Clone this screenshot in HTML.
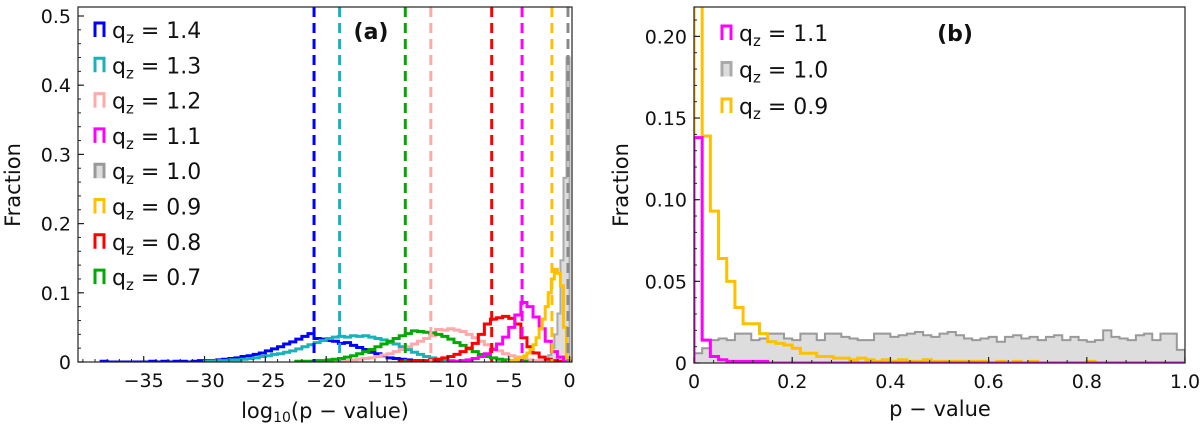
<!DOCTYPE html>
<html><head><meta charset="utf-8"><style>
html,body{margin:0;padding:0;background:#fff;}
svg{display:block;font-family:"DejaVu Sans","Liberation Sans",sans-serif;}
</style></head><body>
<svg id="fig" width="1200" height="428" viewBox="0 0 1200 428">
<defs>
<clipPath id="clipA"><rect x="78" y="7" width="494" height="355"/></clipPath>
<clipPath id="clipB"><rect x="694" y="7" width="491" height="356"/></clipPath>
</defs>
<g id="panelA"></g>
<g id="panelB"></g>
</svg>
<script>
// ---------- Panel (a) data ----------
const seriesNamesA = ["1.4","1.3","1.2","1.1","1.0","0.9","0.8","0.7"];
const seriesColorsA = ["#0000ff","#17b3b8","#ffaaaa","#ff00ff","#999999","#ffc000","#ff0000","#00aa00"];
const blueStart = -38.5, blueWidth = 0.5;
const blueValues = [0.001,0,0,0,0,0,0,0,0.001,0,0.001,0,0.001,0.001,0,0.001,0.002,0.002,0.002,0.003,
 0.004,0.005,0.006,0.008,0.009,0.011,0.013,0.016,0.019,0.022,0.026,0.029,0.033,0.037,0.041,
 0.034,0.033,0.031,0.030,0.027,0.028,0.024,0.021,0.018,0.014,0.012,0.009,0.006,0.005,0.004,0.003,0.002,0.002,0.001,0.001,0.001];
const cyanStart = -30, cyanWidth = 0.5;
const cyanValues = [0.001,0.001,0.002,0.002,0.003,0.003,0.004,0.005,0.006,0.008,0.009,0.011,0.012,0.014,0.016,0.019,0.022,0.025,0.028,0.031,0.034,0.036,0.037,0.036,0.038,0.037,0.038,0.036,0.034,0.032,0.028,0.026,0.022,0.018,0.014,0.011,0.008,0.006,0.004,0.003,0.002,0.001,0.001];
const greenStart = -22.5, greenWidth = 0.5;
const greenValues = [0.001,0.001,0.001,0.002,0.002,0.003,0.004,0.005,0.007,0.009,0.012,0.015,0.018,0.022,0.026,0.030,0.034,0.038,0.041,0.045,0.044,0.043,0.042,0.040,0.037,0.033,0.028,0.024,0.019,0.015,0.011,0.008,0.006,0.004,0.003,0.002,0.001,0.001];
const pinkStart = -20, pinkWidth = 0.5;
const pinkValues = [0.001,0.001,0.002,0.002,0.003,0.004,0.005,0.006,0.008,0.010,0.012,0.015,0.018,0.022,0.026,0.030,0.034,0.038,0.047,0.046,0.048,0.046,0.044,0.040,0.035,0.030,0.025,0.020,0.016,0.012,0.009,0.007,0.005,0.003,0.002,0.001,0.001];
const redStart = -14, redWidth = 0.5;
const redValues = [0.001,0.001,0.001,0.002,0.002,0.003,0.004,0.006,0.008,0.011,0.015,0.020,0.027,0.040,0.055,0.062,0.064,0.066,0.063,0.055,0.035,0.022,0.013,0.007,0.004,0.002,0.001];
const magentaStart = -10, magentaWidth = 0.5;
const magentaValues = [0.001,0.001,0.002,0.003,0.005,0.008,0.012,0.018,0.026,0.036,0.050,0.068,0.086,0.080,0.065,0.048,0.030,0.015,0.007,0.003,0.001];
const yellowStart = -5, yellowWidth = 0.25;
const yellowValues = [0.001,0.002,0.003,0.004,0.006,0.009,0.013,0.018,0.025,0.035,0.048,0.062,0.080,0.100,0.120,0.134,0.128,0.110,0.050,0.005];
const grayStart = -2.25, grayWidth = 0.25;
const grayValues = [0.002,0.005,0.010,0.020,0.040,0.070,0.147,0.266,0.440];
const medianValuesA = [-21.0,-18.9,-11.4,-3.9,-0.13,-1.45,-6.4,-13.5];
const xTicksA = [-35,-30,-25,-20,-15,-10,-5,0];
const yTicksA = [0,0.1,0.2,0.3,0.4,0.5];

// ---------- Panel (b) data ----------
const seriesNamesB = ["1.1","1.0","0.9"];
const binWidthB = 1/60;
const magentaB = [0.138,0.014,0.004,0.002,0.001,0.001,0.001,0.001,0.001,0,0,0,0,0,0,0,0,0,0,0,0,0,0,0,0,0,0,0,0,0,0,0,0,0,0,0,0,0,0,0,0,0,0,0,0,0,0,0,0,0,0,0,0,0,0,0,0,0,0,0];
const grayB = [0.006,0.009,0.014,0.015,0.014,0.018,0.018,0.014,0.015,0.018,0.018,0.015,0.014,0.018,0.018,0.014,0.018,0.018,0.016,0.015,0.014,0.014,0.018,0.018,0.016,0.017,0.018,0.019,0.017,0.016,0.018,0.019,0.017,0.015,0.014,0.015,0.016,0.013,0.016,0.017,0.015,0.016,0.014,0.016,0.017,0.014,0.016,0.014,0.013,0.014,0.020,0.016,0.015,0.014,0.017,0.018,0.014,0.018,0.018,0.008];
const yellowB = [0.40,0.139,0.093,0.064,0.050,0.034,0.024,0.024,0.018,0.013,0.012,0.011,0.009,0.006,0.006,0.004,0.004,0.003,0.003,0.002,0.003,0.002,0.001,0.002,0.001,0.002,0.001,0.001,0.002,0.001,0.001,0.001,0.001,0.001,0.001,0.001,0,0.001,0,0.001,0,0.001,0,0,0,0,0,0,0.001,0,0,0,0,0,0,0,0,0,0,0];
const xTicksB = [0,0.2,0.4,0.6,0.8,1.0];
const xTickLabelsB = ["0","0.2","0.4","0.6","0.8","1.0"];
const yTicksB = [0,0.05,0.10,0.15,0.20];
const yTickLabelsB = ["0","0.05","0.10","0.15","0.20"];

const NS = "http://www.w3.org/2000/svg";
function mk(tag, attrs, parent){const e=document.createElementNS(NS,tag);for(const k in attrs)e.setAttribute(k,attrs[k]);parent.appendChild(e);return e;}

// axis functions
const A = {l:78,r:572,t:7,b:362,x0:-40.4,x1:0.2,y0:0,y1:0.513};
const B = {l:694,r:1185,t:7,b:363,x0:0,x1:1,y0:0,y1:0.218};
function sx(P,v){return P.l+(v-P.x0)/(P.x1-P.x0)*(P.r-P.l);}
function sy(P,v){return P.b-(v-P.y0)/(P.y1-P.y0)*(P.b-P.t);}

function stepPath(P,start,width,vals){
  let d="M"+sx(P,start)+","+sy(P,0);
  for(let i=0;i<vals.length;i++){
    const x0=sx(P,start+i*width), x1=sx(P,start+(i+1)*width), y=sy(P,vals[i]);
    d+=" L"+x0+","+y+" L"+x1+","+y;
  }
  d+=" L"+sx(P,start+vals.length*width)+","+sy(P,0);
  return d;
}

function drawAxes(g,P,xt,xl,yt,yl,xminor,yminor){
  const frame=mk("rect",{x:P.l,y:P.t,width:P.r-P.l,height:P.b-P.t,fill:"none",stroke:"#222","stroke-width":1.2},g);
  
  
  xminor.forEach(v=>{const x=sx(P,v);mk("line",{x1:x,x2:x,y1:P.b,y2:P.b-3,stroke:"#222","stroke-width":1},g);});
  yminor.forEach(v=>{const y=sy(P,v);mk("line",{x1:P.l,x2:P.l+3,y1:y,y2:y,stroke:"#222","stroke-width":1},g);});
  xt.forEach((v,i)=>{const x=sx(P,v);mk("line",{x1:x,x2:x,y1:P.b,y2:P.b-6,stroke:"#222","stroke-width":1.2},g);
    const t=mk("text",{x:x,y:P.b+25,"text-anchor":"middle","font-size":19,fill:"#111"},g);t.textContent=xl[i];
    
    });
  yt.forEach((v,i)=>{const y=sy(P,v);mk("line",{x1:P.l,x2:P.l+6,y1:y,y2:y,stroke:"#222","stroke-width":1.2},g);
    const t=mk("text",{x:P.l-7,y:y+7,"text-anchor":"end","font-size":19,fill:"#111"},g);t.textContent=yl[i];
    
    });
}

function legendEntry(g,x,y,color,label,filled){
  const d="M"+x+","+(y+7)+" L"+x+","+(y-7)+" L"+(x+9)+","+(y-7)+" L"+(x+9)+","+(y+7);
  const m=mk("path",{d:d,fill:filled?"#dddddd":"none",stroke:color,"stroke-width":3},g);
  
  
  const t=mk("text",{x:x+17,y:y+8,"font-size":22,fill:"#111"},g);
  
  
  t.innerHTML='q<tspan font-size="15" dy="5">z</tspan><tspan dy="-5"> = '+label+'</tspan>';
}

// ---------- draw panel (a) ----------
const gA=document.getElementById("panelA");
const histsA=[[blueStart,blueWidth,blueValues,0],[cyanStart,cyanWidth,cyanValues,1],[pinkStart,pinkWidth,pinkValues,2],[greenStart,greenWidth,greenValues,7],[redStart,redWidth,redValues,6],[magentaStart,magentaWidth,magentaValues,3],[yellowStart,yellowWidth,yellowValues,5]];
const plotA=mk("g",{"clip-path":"url(#clipA)"},gA);
const gp=mk("path",{d:stepPath(A,grayStart,grayWidth,grayValues),fill:"#dddddd",stroke:"#aaaaaa","stroke-width":2},plotA);


histsA.forEach(h=>{
  const p=mk("path",{d:stepPath(A,h[0],h[1],h[2]),fill:"none",stroke:seriesColorsA[h[3]],"stroke-width":3,"stroke-linejoin":"miter"},plotA);
  
  
});
medianValuesA.forEach((v,i)=>{
  const x=sx(A,v);
  const c = i===4 ? "#888888" : seriesColorsA[i];
  const l=mk("line",{x1:x,x2:x,y1:A.t,y2:A.b,stroke:c,"stroke-width":3,"stroke-dasharray":"10,6"},plotA);
  
  
});
const xminA=[];for(let v=-40;v<=0;v+=1)xminA.push(v);
const yminA=[];for(let v=0;v<=0.5;v+=0.02)yminA.push(v);
drawAxes(gA,A,xTicksA,xTicksA.map(v=>v===0?"0":"\u2212"+Math.abs(v)),yTicksA,["0","0.1","0.2","0.3","0.4","0.5"],xminA,yminA);
seriesNamesA.forEach((n,i)=>legendEntry(gA,95,30+i*35.3,seriesColorsA[i],n,n==="1.0"));
let t=mk("text",{x:371,y:39,"text-anchor":"middle","font-size":22,"font-weight":"bold",fill:"#111"},gA);t.textContent="(a)";


t=mk("text",{x:325,y:418,"text-anchor":"middle","font-size":21,fill:"#111"},gA);
t.innerHTML='log<tspan font-size="14" dy="4">10</tspan><tspan dy="-4">(p \u2212 value)</tspan>';


t=mk("text",{x:0,y:0,transform:"translate(20,185) rotate(-90)","text-anchor":"middle","font-size":21,fill:"#111"},gA);t.textContent="Fraction";



// ---------- draw panel (b) ----------
const gB=document.getElementById("panelB");
const plotB=mk("g",{"clip-path":"url(#clipB)"},gB);
let p=mk("path",{d:stepPath(B,0,binWidthB,grayB),fill:"#dddddd",stroke:"#999999","stroke-width":2},plotB);


p=mk("path",{d:stepPath(B,0,binWidthB,yellowB),fill:"none",stroke:"#ffc000","stroke-width":3},plotB);


p=mk("path",{d:stepPath(B,0,binWidthB,magentaB),fill:"none",stroke:"#ff00ff","stroke-width":3},plotB);


const xminB=[];for(let v=0;v<=1.0001;v+=0.04)xminB.push(v);
const yminB=[];for(let v=0;v<=0.2101;v+=0.01)yminB.push(v);
drawAxes(gB,B,xTicksB,xTickLabelsB,yTicksB,yTickLabelsB,xminB,yminB);
legendEntry(gB,722,33,"#ff00ff",seriesNamesB[0],false);
legendEntry(gB,722,69.5,"#aaaaaa",seriesNamesB[1],true);
legendEntry(gB,722,106,"#ffc000",seriesNamesB[2],false);
t=mk("text",{x:955,y:41,"text-anchor":"middle","font-size":22,"font-weight":"bold",fill:"#111"},gB);t.textContent="(b)";


t=mk("text",{x:940,y:416,"text-anchor":"middle","font-size":21,fill:"#111"},gB);t.textContent="p \u2212 value";


t=mk("text",{x:0,y:0,transform:"translate(628,185) rotate(-90)","text-anchor":"middle","font-size":21,fill:"#111"},gB);t.textContent="Fraction";


</script>
</body></html>
